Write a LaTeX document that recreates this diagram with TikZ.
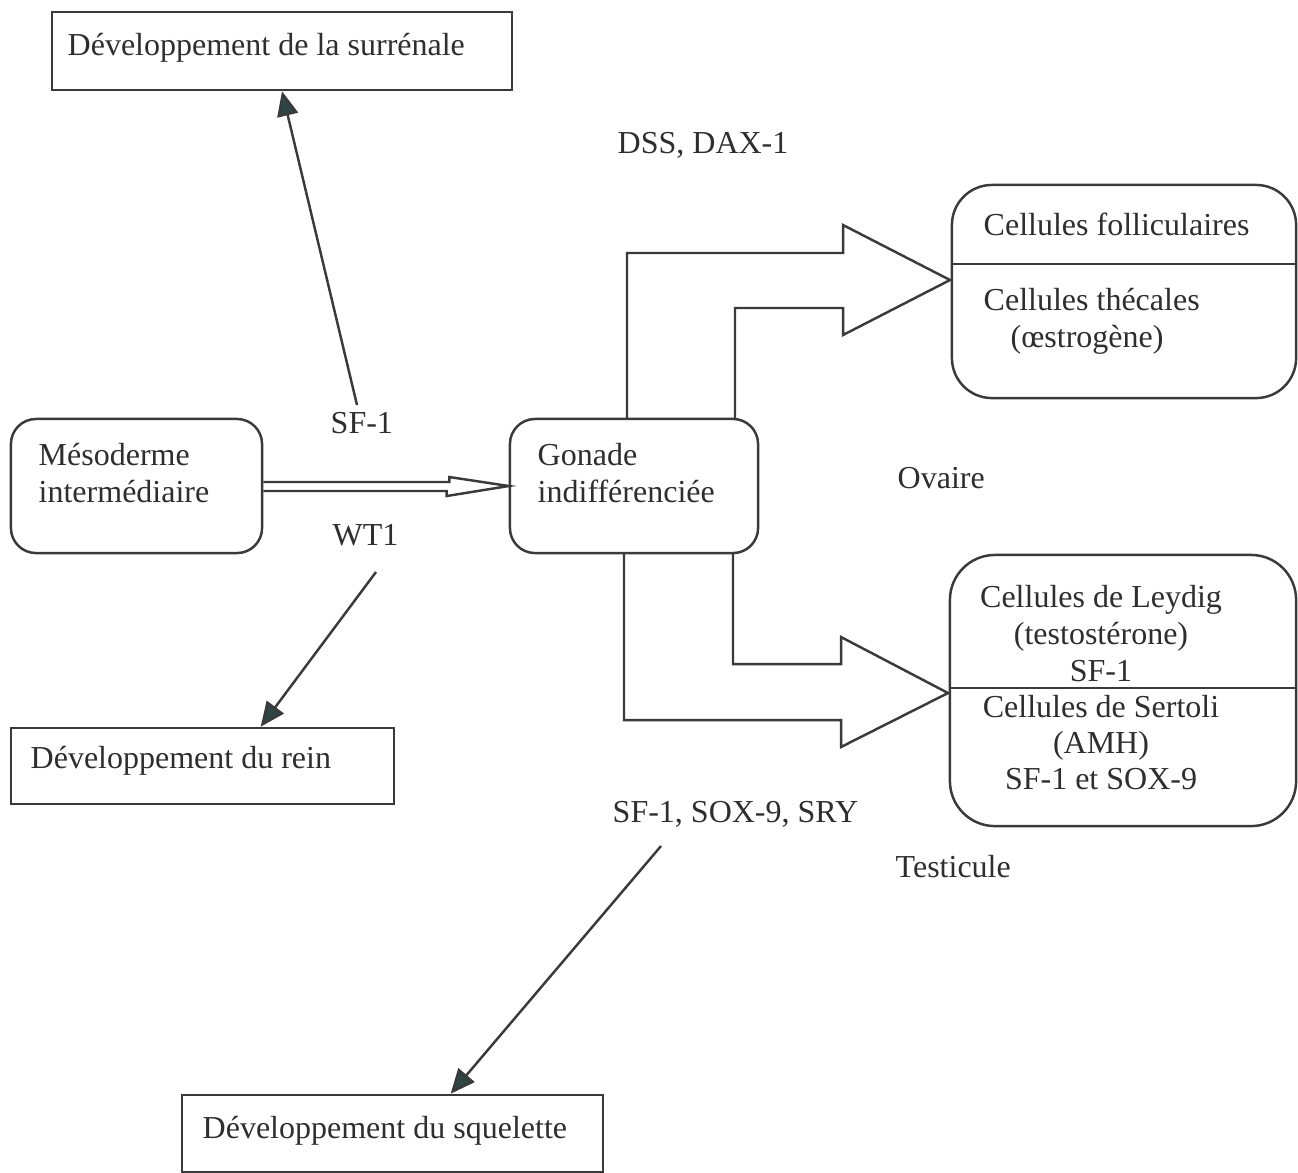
\documentclass[tikz,border=0pt]{standalone}
\usepackage{fontspec}
\setmainfont{Liberation Serif}
\usepackage{tikz}
\usetikzlibrary{arrows.meta,calc}

\definecolor{linec}{HTML}{3A3A3A}
\definecolor{tipc}{HTML}{2F4444}
\definecolor{textc}{HTML}{2E2E2E}

\tikzset{
    box/.style={draw=linec, line width=0.7pt, rectangle, inner sep=0pt},
    rbox/.style={box, rounded corners=0.25cm},
    txt/.style={inner sep=0pt, anchor=base west, text=textc},
    ctxt/.style={inner sep=0pt, anchor=base, text=textc},
    edge/.style={draw=linec, line width=0.7pt, line join=miter},
    arr/.style={draw=linec, line width=0.7pt, -{Triangle[length=7pt,width=6pt,fill=tipc]}},
}

\begin{document}
\begin{tikzpicture}[x=0.01cm, y=-0.01cm, font=\fontsize{9.1}{10.5}\selectfont]
    \useasboundingbox (0,0) rectangle (1298,1172);

    % Boxes
    \node[box, minimum width=4.60cm, minimum height=0.78cm] (surrenale) at (282,51) {};
    \node[rbox, minimum width=2.51cm, minimum height=1.34cm] (meso) at (136.5,486) {};
    \node[rbox, minimum width=2.48cm, minimum height=1.34cm] (gonade) at (634,486) {};
    \node[box, minimum width=3.83cm, minimum height=0.76cm] (rein) at (202.5,766) {};
    \node[box, minimum width=4.21cm, minimum height=0.77cm] (squelette) at (392.5,1133.5) {};
    \node[box, rounded corners=0.4cm, minimum width=3.44cm, minimum height=2.13cm] (ovaire) at (1124,291.5) {};
    \node[box, rounded corners=0.45cm, minimum width=3.46cm, minimum height=2.71cm] (testicule) at (1123,690.5) {};
    \draw[edge] (ovaire.west |- 0,264) -- (ovaire.east |- 0,264);
    \draw[edge] (testicule.west |- 0,688) -- (testicule.east |- 0,688);

    % Texts in the boxes
    \node[txt] (tsurr) at (67,55) {Développement de la surrénale};
    \node[txt] (tmeso1) at (38,465) {Mésoderme};
    \node[txt] (tmeso2) at (38,502) {intermédiaire};
    \node[txt] (tgon1) at (537,465) {Gonade};
    \node[txt] (tgon2) at (537,502) {indifférenciée};
    \node[txt] (trein) at (30,768) {Développement du rein};
    \node[txt] (tsque) at (202,1138) {Développement du squelette};
    \node[txt] (tfol) at (983,235) {Cellules folliculaires};
    \node[txt] (ttheca) at (983,310) {Cellules thécales};
    \node[txt] (toestro) at (1010,347) {(œstrogène)};
    \node[ctxt] (tley) at (1101,607) {Cellules de Leydig};
    \node[ctxt] (ttesto) at (1101,644) {(testostérone)};
    \node[ctxt] (tsfa) at (1101,681) {SF-1};
    \node[ctxt] (tser) at (1101,717) {Cellules de Sertoli};
    \node[ctxt] (tamh) at (1101,753) {(AMH)};
    \node[ctxt] (tsox) at (1101,789) {SF-1 et SOX-9};

    % Free labels
    \node[txt] (dss) at (617,153) {DSS, DAX-1};
    \node[txt] (sf1) at (330,433) {SF-1};
    \node[txt] (wt1) at (332,545) {WT1};
    \node[txt] (ovlbl) at (897,488) {Ovaire};
    \node[txt] (sry) at (612,822) {SF-1, SOX-9, SRY};
    \node[txt] (telbl) at (895,877) {Testicule};

    % Thin arrows
    \coordinate (sfa) at (357,405);
    \coordinate (wta) at (376,572);
    \coordinate (srya) at (661,846);
    \draw[arr] (sfa) -- (surrenale.south);
    \draw[arr] (wta) -- ($(rein.north west)+(251,0)$);
    \draw[arr] (srya) -- ($(squelette.north west)+(270,0)$);

    % Hollow double arrow
    \draw[edge] ($(meso.east)+(0,-4)$) -- ++(186,0) -- ++(0,-5) -- (gonade.west)
        -- ++(-62,10) -- ++(0,-5) -- ($(meso.east)+(0,5)$);

    % Block arrows to ovary and testis
    \draw[edge] (627,419) |- (843,253) -- (843,225) -- (950,280) -- (843,335) -- (843,308) -| (735,419);
    \draw[edge] (624,553) |- (841,720) -- (841,747) -- (948,693) -- (841,637) -- (841,664) -| (733,553);
\end{tikzpicture}
\end{document}
